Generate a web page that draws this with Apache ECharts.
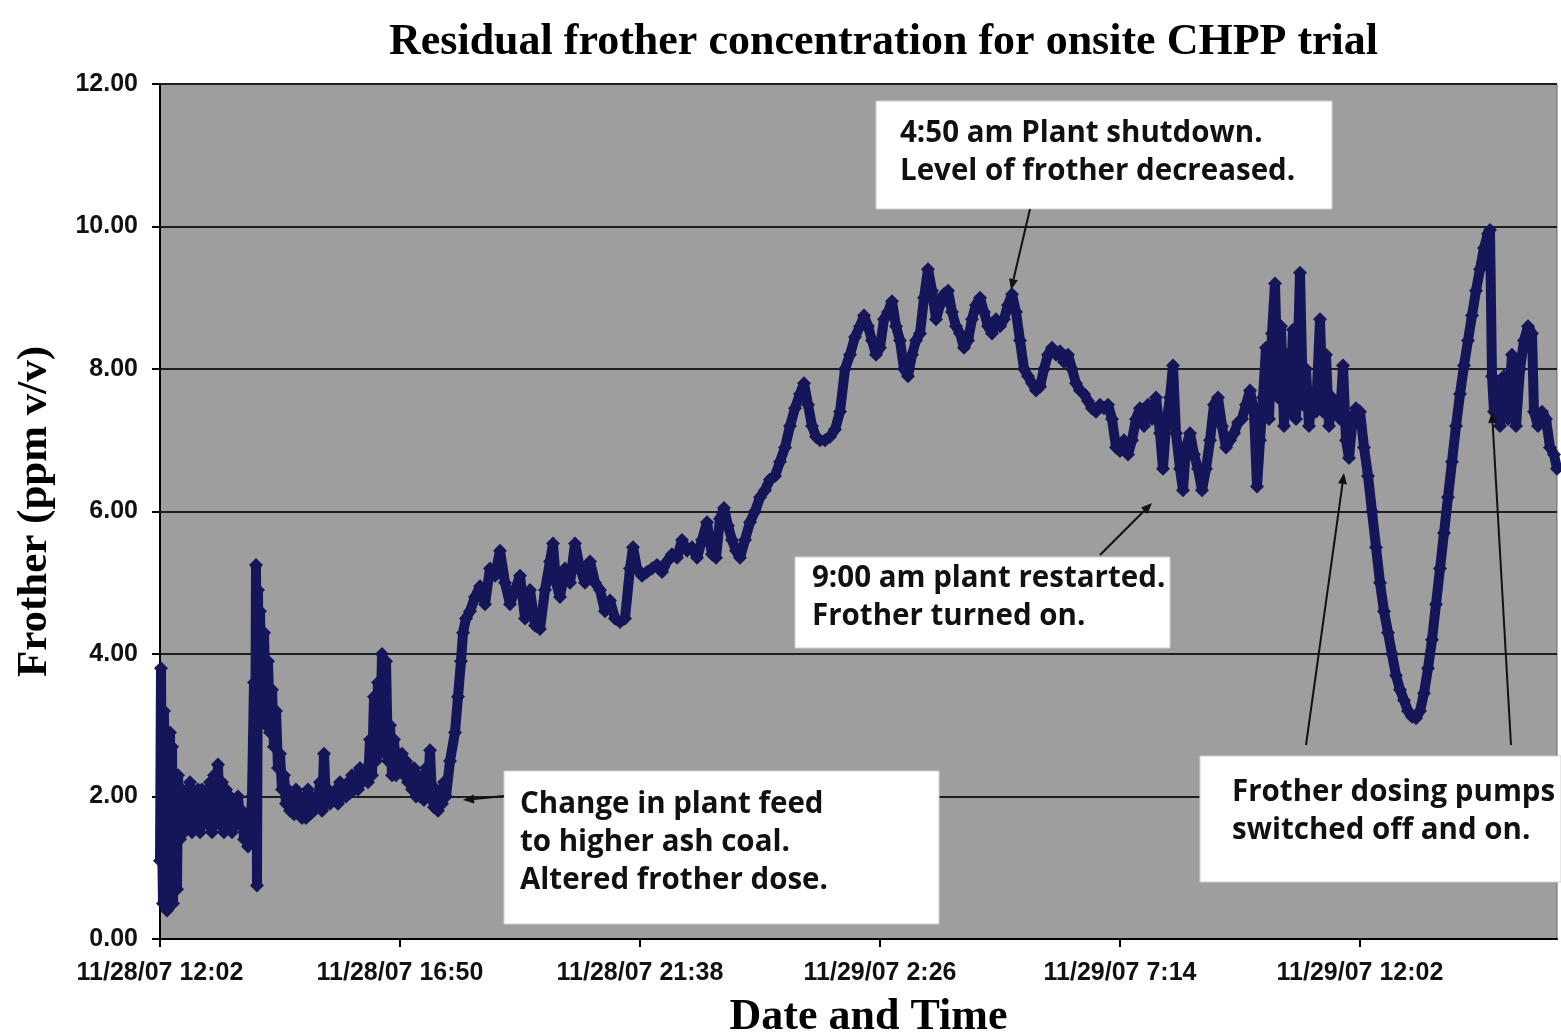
<!DOCTYPE html>
<html>
<head>
<meta charset="utf-8">
<title>Residual frother concentration</title>
<script src="https://cdn.jsdelivr.net/npm/echarts@6/dist/echarts.min.js"></script>
<style>
    html, body { margin: 0; padding: 0; background: #fff; }
    #main { width: 1561px; height: 1034px; }
</style>
</head>
<body>
<div id="main"></div>
<script type="text/javascript">
// hours elapsed since 11/28/07 12:02, frother ppm v/v
var tickLabels = ['11/28/07 12:02', '11/28/07 16:50', '11/28/07 21:38', '11/29/07 2:26', '11/29/07 7:14', '11/29/07 12:02'];
var yTicks = [0, 2, 4, 6, 8, 10, 12];

var baseline = [
    [0, 1.1], [0.02, 3.8], [0.04, 1.5], [0.06, 0.5], [0.08, 3.2], [0.10, 1.0], [0.12, 2.5], [0.14, 0.4],
    [0.16, 2.0], [0.18, 0.6], [0.20, 2.9], [0.22, 1.0], [0.24, 2.7], [0.26, 0.5], [0.28, 2.2], [0.30, 1.3],
    [0.32, 2.0], [0.34, 0.7], [0.36, 2.3], [0.40, 1.4], [0.44, 2.1], [0.48, 1.5], [0.52, 2.0], [0.56, 1.7],
    [0.60, 2.2], [0.64, 1.5], [0.68, 2.0], [0.72, 1.6], [0.76, 2.1], [0.80, 1.5], [0.84, 2.1], [0.88, 1.7],
    [0.92, 2.0], [0.96, 1.6], [1.00, 2.2], [1.04, 1.5], [1.08, 2.3], [1.12, 1.7], [1.16, 2.45], [1.20, 1.6],
    [1.24, 2.2], [1.28, 1.5], [1.32, 2.1], [1.36, 1.7], [1.40, 2.0], [1.44, 1.5], [1.48, 1.9], [1.52, 1.6],
    [1.56, 2.0], [1.60, 1.7], [1.64, 1.8], [1.68, 1.4], [1.72, 1.6], [1.76, 1.3], [1.80, 1.5], [1.84, 2.0],
    [1.88, 3.6], [1.90, 1.8], [1.92, 5.25], [1.94, 0.75], [1.96, 4.9], [1.98, 3.0], [2.00, 4.6], [2.04, 3.2],
    [2.08, 4.3], [2.12, 3.0], [2.16, 3.9], [2.20, 2.9], [2.24, 3.5], [2.28, 2.7], [2.32, 3.2], [2.36, 2.4],
    [2.40, 2.6], [2.44, 2.1], [2.48, 2.3], [2.52, 1.9], [2.56, 2.1], [2.60, 1.8], [2.64, 2.0], [2.68, 1.75],
    [2.72, 2.1], [2.76, 1.8], [2.80, 2.0], [2.84, 1.7], [2.88, 1.9], [2.92, 1.7], [2.96, 2.1], [3.00, 1.75],
    [3.04, 1.9], [3.08, 1.8], [3.12, 2.0], [3.16, 1.9], [3.20, 2.2], [3.24, 1.8], [3.28, 2.6], [3.32, 1.9],
    [3.36, 2.1], [3.40, 1.9], [3.44, 2.0], [3.48, 1.95], [3.52, 2.1], [3.56, 1.9], [3.60, 2.2], [3.64, 2.0],
    [3.68, 2.1], [3.72, 2.0], [3.76, 2.2], [3.80, 2.05], [3.84, 2.3], [3.88, 2.1], [3.92, 2.3], [3.96, 2.1],
    [4.00, 2.4], [4.04, 2.2], [4.08, 2.3], [4.12, 2.4], [4.16, 2.2], [4.20, 2.8], [4.24, 2.3], [4.28, 3.4],
    [4.32, 2.5], [4.36, 3.6], [4.40, 2.6], [4.44, 4.0], [4.48, 2.8], [4.52, 3.9], [4.56, 2.5], [4.60, 3.0],
    [4.64, 2.3], [4.68, 2.8], [4.72, 2.3], [4.76, 2.6], [4.80, 2.4], [4.84, 2.6], [4.88, 2.3], [4.92, 2.5],
    [4.96, 2.2], [5.00, 2.4], [5.04, 2.1], [5.08, 2.4], [5.12, 2.0], [5.16, 2.3], [5.20, 2.0], [5.24, 2.2],
    [5.28, 1.95], [5.32, 2.4], [5.36, 2.1], [5.40, 2.65], [5.44, 2.0], [5.48, 1.85], [5.52, 2.1], [5.56, 1.8],
    [5.60, 2.0], [5.64, 1.9], [5.68, 2.2], [5.72, 2.0]
];

var feedChange = [
    [5.80, 2.5], [5.90, 2.9], [5.96, 3.4], [6.02, 3.9], [6.06, 4.3], [6.12, 4.5], [6.2, 4.6], [6.3, 4.8],
    [6.4, 4.95], [6.5, 4.7], [6.6, 5.2], [6.7, 5.1], [6.8, 5.45], [6.9, 5.0], [7.0, 4.7], [7.1, 4.9],
    [7.2, 5.1], [7.3, 4.5], [7.4, 4.9], [7.5, 4.4], [7.6, 4.35], [7.7, 4.9], [7.8, 5.3], [7.86, 5.55],
    [7.92, 5.0], [8.0, 4.8], [8.1, 5.2], [8.2, 5.0], [8.3, 5.55], [8.4, 5.2], [8.5, 5.0], [8.6, 5.3],
    [8.7, 5.0], [8.8, 4.9], [8.9, 4.6], [9.0, 4.75], [9.1, 4.5], [9.2, 4.45], [9.3, 4.5], [9.4, 5.2],
    [9.46, 5.5], [9.54, 5.2], [9.64, 5.1], [9.74, 5.15], [9.84, 5.2], [9.94, 5.25], [10.04, 5.15], [10.14, 5.3],
    [10.24, 5.4], [10.34, 5.35], [10.44, 5.6], [10.54, 5.45], [10.64, 5.5], [10.74, 5.35], [10.84, 5.6], [10.94, 5.85],
    [11.04, 5.4], [11.12, 5.35], [11.2, 5.9], [11.28, 6.05], [11.36, 5.8], [11.44, 5.6], [11.52, 5.45], [11.6, 5.35],
    [11.7, 5.6], [11.8, 5.85], [11.9, 6.0]
];

var climb = [
    [12.0, 6.2], [12.1, 6.3], [12.2, 6.45], [12.3, 6.5], [12.4, 6.7], [12.5, 6.9], [12.6, 7.2], [12.7, 7.45],
    [12.8, 7.65], [12.88, 7.8], [12.96, 7.5], [13.04, 7.2], [13.12, 7.05], [13.2, 7.0], [13.3, 7.0], [13.4, 7.05],
    [13.5, 7.15], [13.6, 7.4], [13.7, 8.0], [13.8, 8.2], [13.9, 8.45], [14.0, 8.6], [14.08, 8.75], [14.16, 8.6],
    [14.24, 8.4], [14.32, 8.2], [14.4, 8.3], [14.48, 8.7], [14.56, 8.8], [14.64, 8.95], [14.72, 8.6], [14.8, 8.4],
    [14.88, 8.0], [14.96, 7.9], [15.04, 8.2], [15.12, 8.4], [15.2, 8.5], [15.28, 9.0], [15.36, 9.4], [15.44, 9.1],
    [15.52, 8.7], [15.6, 8.9], [15.68, 9.05], [15.76, 9.1], [15.84, 8.8], [15.92, 8.6], [16.0, 8.5], [16.08, 8.3],
    [16.16, 8.4], [16.24, 8.7], [16.32, 8.9], [16.4, 9.0], [16.48, 8.8], [16.56, 8.6], [16.64, 8.5], [16.72, 8.7],
    [16.8, 8.6], [16.88, 8.7], [16.96, 8.9], [17.04, 9.05]
];

var shutdownDrift = [
    [17.12, 8.8], [17.2, 8.4], [17.28, 8.0], [17.36, 7.9], [17.44, 7.8], [17.52, 7.7], [17.6, 7.75], [17.68, 8.0],
    [17.76, 8.2], [17.84, 8.3], [17.92, 8.2], [18.0, 8.25], [18.08, 8.1], [18.16, 8.2], [18.24, 8.0], [18.32, 7.8],
    [18.4, 7.7], [18.48, 7.65], [18.56, 7.55], [18.64, 7.45], [18.72, 7.4], [18.8, 7.5], [18.88, 7.45], [18.96, 7.5],
    [19.04, 7.3], [19.12, 6.9], [19.2, 6.85], [19.28, 7.0], [19.36, 6.8], [19.44, 7.0], [19.52, 7.3], [19.6, 7.45],
    [19.68, 7.2], [19.76, 7.5], [19.84, 7.3], [19.92, 7.6]
];

var restart = [
    [20.0, 7.1], [20.06, 6.6], [20.12, 7.2], [20.2, 7.6], [20.26, 8.05], [20.32, 7.1], [20.4, 6.6], [20.46, 6.3],
    [20.52, 6.9], [20.6, 7.1], [20.68, 6.8], [20.76, 6.6], [20.84, 6.3], [20.92, 6.6], [21.0, 7.0], [21.08, 7.5],
    [21.16, 7.6], [21.24, 7.2], [21.32, 6.9], [21.4, 7.0], [21.48, 7.1], [21.56, 7.25], [21.64, 7.3], [21.72, 7.5],
    [21.8, 7.7], [21.88, 7.4], [21.94, 6.35], [22.0, 7.0], [22.06, 7.6], [22.12, 8.3], [22.18, 7.3], [22.24, 8.5],
    [22.3, 9.2], [22.36, 7.6], [22.42, 8.6], [22.48, 7.2], [22.54, 8.2], [22.6, 7.4], [22.66, 8.55], [22.72, 7.3],
    [22.8, 9.35], [22.86, 7.5], [22.92, 8.0], [22.98, 7.2], [23.04, 7.6], [23.12, 7.4], [23.2, 8.7], [23.26, 7.4],
    [23.32, 8.2], [23.38, 7.2], [23.44, 7.6], [23.52, 7.5], [23.6, 7.3], [23.66, 8.05], [23.72, 7.0], [23.78, 6.75],
    [23.84, 7.2], [23.92, 7.45], [24.0, 7.4]
];

var pumpTest = [
    [24.08, 6.9], [24.16, 6.5], [24.24, 6.0], [24.32, 5.5], [24.4, 5.0], [24.48, 4.6], [24.56, 4.3], [24.64, 4.0],
    [24.72, 3.7], [24.8, 3.5], [24.88, 3.35], [24.96, 3.2], [25.04, 3.12], [25.12, 3.1], [25.2, 3.2], [25.28, 3.45],
    [25.36, 3.8], [25.44, 4.2], [25.52, 4.7], [25.6, 5.2], [25.68, 5.7], [25.76, 6.2], [25.84, 6.7], [25.92, 7.2],
    [26.0, 7.65], [26.08, 8.05], [26.16, 8.4], [26.24, 8.75], [26.32, 9.1], [26.4, 9.4], [26.48, 9.7], [26.56, 9.9],
    [26.6, 9.95], [26.64, 7.9], [26.68, 7.4], [26.74, 7.8], [26.8, 7.2], [26.88, 7.9], [26.96, 7.3], [27.04, 8.2],
    [27.12, 7.2], [27.2, 8.0], [27.28, 8.4], [27.36, 8.6], [27.44, 8.5], [27.48, 7.4], [27.56, 7.2], [27.64, 7.4],
    [27.72, 7.3], [27.8, 6.9], [27.88, 6.8], [27.94, 6.6]
];

var frother = [].concat(baseline, feedChange, climb, shutdownDrift, restart, pumpTest);
var tickStep = 4.8;

var notes = [
    { x: 876, y: 101, w: 456, h: 108, ty: 18, lines: ['4:50 am Plant shutdown.', 'Level of frother decreased.'], tx: 900 },
    { x: 795, y: 557, w: 375, h: 91, ty: 7, lines: ['9:00 am plant restarted.', 'Frother turned on.'], tx: 812 },
    { x: 504, y: 771, w: 435, h: 153, ty: 19, lines: ['Change in plant feed', 'to higher ash coal.', 'Altered frother dose.'], tx: 520 },
    { x: 1200, y: 756, w: 361, h: 126, ty: 22, lines: ['Frother dosing pumps', 'switched off and on.'], tx: 1232 }
];
var arrows = [
    [1030, 209, 1011, 290],
    [1100, 555, 1152, 503],
    [504, 796, 463, 800],
    [1306, 745, 1344, 473],
    [1511, 745, 1492, 412]
];

var graphics = [];
notes.forEach(function (n) {
    graphics.push({
        type: 'rect', z: 100,
        shape: { x: n.x, y: n.y, width: n.w, height: n.h },
        style: { fill: '#fff', stroke: '#d0d0d0', lineWidth: 1 }
    });
    n.lines.forEach(function (s, i) {
        graphics.push({
            type: 'text', z: 101, x: n.tx, y: n.y + n.ty + i * 38,
            style: { text: s, fill: '#111', font: 'bold 29.5px "Open Sans"' }
        });
    });
});
arrows.forEach(function (a) {
    var ang = Math.atan2(a[3] - a[1], a[2] - a[0]);
    var L = 11, W = 4.5;
    var bx = a[2] - L * Math.cos(ang), by = a[3] - L * Math.sin(ang);
    graphics.push({
        type: 'line', z: 102,
        shape: { x1: a[0], y1: a[1], x2: bx, y2: by },
        style: { stroke: '#111', lineWidth: 2 }
    });
    graphics.push({
        type: 'polygon', z: 102,
        shape: { points: [[a[2], a[3]], [bx - W * Math.sin(ang), by + W * Math.cos(ang)], [bx + W * Math.sin(ang), by - W * Math.cos(ang)]] },
        style: { fill: '#111' }
    });
});

var myChart = echarts.init(document.getElementById('main'));
var option = {
    animation: false,
    backgroundColor: '#fff',
    title: {
        text: 'Residual frother concentration for onsite CHPP trial',
        left: 384, top: 16,
        textStyle: { fontFamily: 'Liberation Serif', fontWeight: 'bold', fontSize: 44, color: '#000' }
    },
    grid: {
        left: 160, right: 4, top: 84, bottom: 95,
        containLabel: false, outerBoundsMode: 'none',
        show: true, backgroundColor: '#9e9e9e', borderColor: '#6a6a6a', borderWidth: 1
    },
    xAxis: {
        type: 'value', min: 0, max: 27.94, interval: tickStep,
        name: 'Date and Time', nameLocation: 'middle', nameGap: 57,
        nameTextStyle: { fontFamily: 'Liberation Serif', fontWeight: 'bold', fontSize: 44, color: '#000', padding: [0, 0, 0, 20] },
        axisLine: { lineStyle: { color: '#000', width: 2 } },
        axisTick: { show: true, length: 8, lineStyle: { color: '#000', width: 2 } },
        axisLabel: {
            margin: 22, color: '#111', fontFamily: 'Liberation Sans', fontWeight: 'bold', fontSize: 25,
            showMaxLabel: false,
            formatter: function (v) {
                var i = Math.round(v / tickStep);
                return Math.abs(v - i * tickStep) < 1e-6 && tickLabels[i] ? tickLabels[i] : '';
            }
        },
        splitLine: { show: false }
    },
    yAxis: {
        type: 'value', min: yTicks[0], max: yTicks[yTicks.length - 1], interval: 2,
        name: 'Frother (ppm v/v)', nameLocation: 'middle', nameGap: 104,
        nameTextStyle: { fontFamily: 'Liberation Serif', fontWeight: 'bold', fontSize: 43, color: '#000' },
        axisLine: { show: true, lineStyle: { color: '#000', width: 2 } },
        axisTick: { show: true, length: 8, lineStyle: { color: '#000', width: 2 } },
        axisLabel: {
            margin: 22, color: '#111', fontFamily: 'Liberation Sans', fontWeight: 'bold', fontSize: 25,
            formatter: function (v) { return v.toFixed(2); }
        },
        splitLine: { show: true, lineStyle: { color: '#1e1e1e', width: 2 } }
    },
    series: [{
        name: 'Frother',
        type: 'line',
        data: frother,
        symbol: 'diamond',
        symbolSize: 14,
        showAllSymbol: true,
        lineStyle: { color: '#15155a', width: 10 },
        itemStyle: { color: '#15155a' },
        z: 5
    }],
    graphic: graphics
};
myChart.setOption(option);
</script>
</body>
</html>
